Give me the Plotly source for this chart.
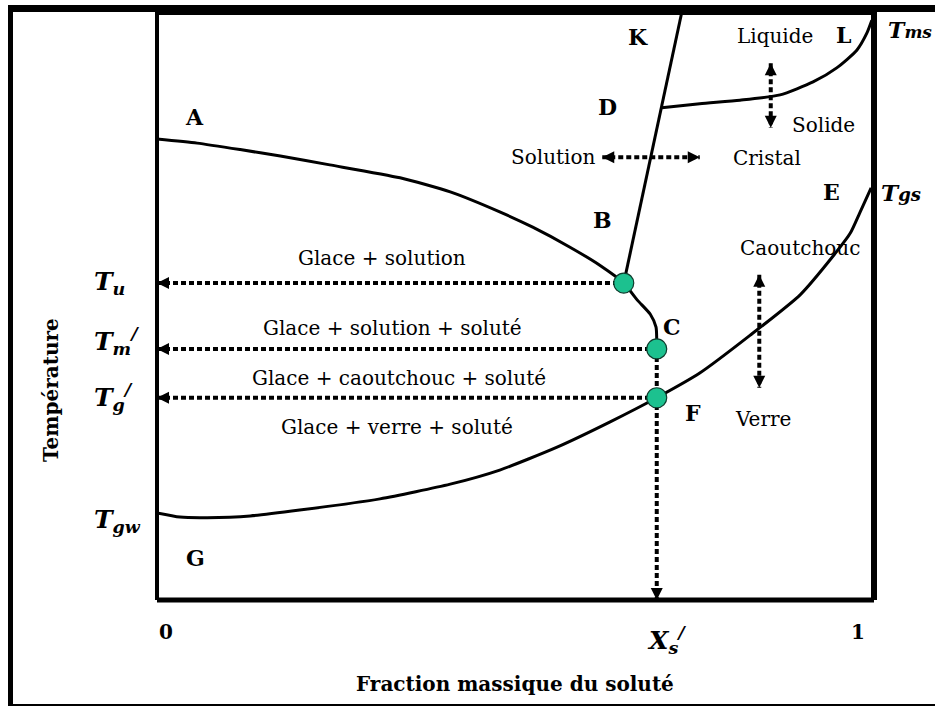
import plotly.graph_objects as go

# ---------------- data (x: solute mass fraction 0..1, y: temperature, arbitrary 0..100) -------------
liquidus_x = [0.000, 0.056, 0.116, 0.172, 0.241, 0.339, 0.409, 0.478, 0.524, 0.576, 0.618, 0.651, 0.670, 0.688, 0.696, 0.697, 0.697]
liquidus_y = [78.4, 77.7, 76.6, 75.5, 74.0, 71.8, 69.4, 66.0, 63.4, 60.0, 56.9, 53.9, 51.0, 48.6, 46.4, 44.2, 42.7]

glass_x = [0.000, 0.032, 0.070, 0.130, 0.199, 0.311, 0.409, 0.478, 0.558, 0.632, 0.697, 0.757, 0.827, 0.897, 0.943, 0.967, 0.980, 0.996]
glass_y = [14.8, 14.1, 14.0, 14.3, 15.3, 17.2, 19.7, 22.1, 26.0, 30.3, 34.4, 38.6, 45.0, 51.9, 58.5, 62.4, 65.8, 70.1]

melting_x = [0.704, 0.757, 0.813, 0.869, 0.915, 0.948, 0.976, 0.990, 0.997]
melting_y = [83.7, 84.4, 85.0, 85.9, 88.1, 90.5, 93.5, 96.4, 98.6]

solubility_x = [0.732, 0.651]
solubility_y = [100.0, 53.9]

point_names = ["B", "C", "F"]
point_x = [0.651, 0.697, 0.697]
point_y = [53.9, 42.7, 34.4]
Xs = 0.697

sol_cri_x = [0.621, 0.757]
sol_cri_y = 75.3
liq_sol_x = 0.856
liq_sol_y = [91.3, 80.3]
cao_ver_x = 0.840
cao_ver_y = [55.3, 36.1]

letter_text = ["A", "B", "C", "D", "E", "F", "G", "K", "L"]
letter_x = [0.052, 0.622, 0.718, 0.628, 0.941, 0.748, 0.054, 0.671, 0.957]
letter_y = [82.1, 64.6, 46.4, 83.8, 69.4, 31.8, 7.1, 95.8, 96.1]

region_text = ["Glace + solution", "Glace + solution + soluté", "Glace + caoutchouc + soluté",
               "Glace + verre + soluté", "Solution", "Cristal", "Liquide", "Solide", "Caoutchouc", "Verre"]
region_x = [0.314, 0.329, 0.3375, 0.335, 0.552, 0.851, 0.862, 0.929, 0.897, 0.845]
region_y = [58.2, 46.3, 37.8, 29.4, 75.3, 75.2, 95.9, 80.8, 59.9, 30.8]

x_title = "Fraction massique du soluté"
y_title = "Température"

SERIF = "DejaVu Serif"
BLACK = "black"
DOT = "5px,3px"

fig = go.Figure()

def curve(x, y, w=3):
    fig.add_trace(go.Scatter(x=x, y=y, mode="lines", line=dict(color=BLACK, width=w, shape="spline", smoothing=0.6),
                             hoverinfo="skip"))

def dotted(x, y):
    fig.add_trace(go.Scatter(x=x, y=y, mode="lines", line=dict(color=BLACK, width=4, dash=DOT), hoverinfo="skip"))

head_x, head_y, head_sym = [], [], []

def head(xt, yt, sym):
    head_x.append(xt)
    head_y.append(yt)
    head_sym.append(sym)

# main curves
curve(liquidus_x, liquidus_y)
curve(glass_x, glass_y)
curve(melting_x, melting_y)
fig.add_trace(go.Scatter(x=solubility_x, y=solubility_y, mode="lines", line=dict(color=BLACK, width=3), hoverinfo="skip"))

# dotted level lines to the temperature axis
for px_, py_ in zip(point_x, point_y):
    dotted([0, px_], [py_, py_])
    head(0, py_, "arrow-left")
# vertical dotted to X's
dotted([Xs, Xs], [point_y[1], 0])
head(Xs, 0, "arrow-down")

# double arrows
dotted(sol_cri_x, [sol_cri_y, sol_cri_y])
head(sol_cri_x[0], sol_cri_y, "arrow-left")
head(sol_cri_x[1], sol_cri_y, "arrow-right")
dotted([liq_sol_x, liq_sol_x], liq_sol_y)
head(liq_sol_x, liq_sol_y[0], "arrow-up")
head(liq_sol_x, liq_sol_y[1], "arrow-down")
dotted([cao_ver_x, cao_ver_x], cao_ver_y)
head(cao_ver_x, cao_ver_y[0], "arrow-up")
head(cao_ver_x, cao_ver_y[1], "arrow-down")

fig.add_trace(go.Scatter(x=head_x, y=head_y, mode="markers", hoverinfo="skip", cliponaxis=False,
                         marker=dict(symbol=head_sym, size=12, color=BLACK, line=dict(width=0))))

# key points
fig.add_trace(go.Scatter(x=point_x, y=point_y, mode="markers", text=point_names, hoverinfo="text",
                         marker=dict(size=20, color="#1cc18f", line=dict(color="#0d3b2c", width=1.2))))

# letters
for t, x, y in zip(letter_text, letter_x, letter_y):
    fig.add_annotation(x=x, y=y, xref="x", yref="y", text=t, showarrow=False, xanchor="center", yanchor="middle",
                       font=dict(family=SERIF, size=22, color=BLACK, weight="bold"))
# region labels
for t, x, y in zip(region_text, region_x, region_y):
    fig.add_annotation(x=x, y=y, xref="x", yref="y", text=t, showarrow=False, xanchor="center", yanchor="middle",
                       font=dict(family=SERIF, size=20, color=BLACK))

# ---- labels outside the plot area (paper coords; plot area = x 157..874 px, y 12..600 px) ----
def px_x(p):
    return (p - 157) / 717.0

def px_y(p):
    return (600 - p) / 588.0

tfont = dict(family=SERIF, size=25, color=BLACK, weight="bold", style="italic")
left_labels = [("T<sub>u</sub>", 283), ("T<sub>m</sub><sup>/</sup>", 341), ("T<sub>g</sub><sup>/</sup>", 397),
               ("T<sub>gw</sub>", 521)]
for t, yy in left_labels:
    fig.add_annotation(x=px_x(92), y=px_y(yy), xref="paper", yref="paper", text=t, showarrow=False,
                       xanchor="left", yanchor="middle", font=tfont)

fig.add_annotation(x=px_x(886), y=px_y(30), xref="paper", yref="paper", xanchor="left", yanchor="middle",
                   text="T<span style='font-size:17px'>ms</span>", showarrow=False,
                   font=dict(family=SERIF, size=22, color=BLACK, weight="bold", style="italic"))
fig.add_annotation(x=px_x(879), y=px_y(192), xref="paper", yref="paper", xanchor="left", yanchor="middle",
                   text="T<span style='font-size:18px'>gs</span>", showarrow=False,
                   font=dict(family=SERIF, size=23, color=BLACK, weight="bold", style="italic"))

# x tick labels
fig.add_annotation(x=px_x(166), y=px_y(632), xref="paper", yref="paper", text="0", showarrow=False,
                   xanchor="center", yanchor="middle", font=dict(family=SERIF, size=20, color=BLACK, weight="bold"))
fig.add_annotation(x=px_x(858), y=px_y(632), xref="paper", yref="paper", text="1", showarrow=False,
                   xanchor="center", yanchor="middle", font=dict(family=SERIF, size=20, color=BLACK, weight="bold"))
fig.add_annotation(x=px_x(645), y=px_y(640), xref="paper", yref="paper", xanchor="left", yanchor="middle",
                   text="X<sub>s</sub><sup>/</sup>", showarrow=False, font=tfont)

# axis titles
fig.add_annotation(x=px_x(515), y=px_y(684), xref="paper", yref="paper", text=x_title, showarrow=False,
                   xanchor="center", yanchor="middle", font=dict(family=SERIF, size=20, color=BLACK, weight="bold"))
fig.add_annotation(x=px_x(51), y=px_y(390), xref="paper", yref="paper", text=y_title, showarrow=False,
                   xanchor="center", yanchor="middle", textangle=-90,
                   font=dict(family=SERIF, size=20, color=BLACK, weight="bold"))

# ---- plot box and outer frame ----
shapes = [
    dict(type="line", xref="paper", yref="paper", x0=0, x1=0, y0=0, y1=1, line=dict(color=BLACK, width=4)),
    dict(type="line", xref="paper", yref="paper", x0=0, x1=1, y0=0, y1=0, line=dict(color=BLACK, width=5)),
    dict(type="line", xref="paper", yref="paper", x0=1, x1=1, y0=0, y1=1, line=dict(color=BLACK, width=6)),
    dict(type="line", xref="paper", yref="paper", x0=0, x1=1, y0=1, y1=1, line=dict(color=BLACK, width=6)),
    dict(type="line", xref="paper", yref="paper", x0=px_x(10.5), x1=px_x(10.5), y0=px_y(705), y1=px_y(5),
         line=dict(color=BLACK, width=5)),
    dict(type="line", xref="paper", yref="paper", x0=px_x(8), x1=px_x(935), y0=px_y(8.5), y1=px_y(8.5),
         line=dict(color=BLACK, width=7)),
    dict(type="line", xref="paper", yref="paper", x0=px_x(8), x1=px_x(935), y0=px_y(705), y1=px_y(705),
         line=dict(color=BLACK, width=2)),
]
for s in shapes:
    s["layer"] = "above"

fig.update_layout(
    width=935, height=706,
    margin=dict(l=157, r=61, t=12, b=106),
    paper_bgcolor="white", plot_bgcolor="white",
    showlegend=False,
    xaxis=dict(range=[0, 1], visible=False, fixedrange=True),
    yaxis=dict(range=[0, 100], visible=False, fixedrange=True),
    shapes=shapes,
)

fig.write_html("out.html", config={"displayModeBar": False},
               post_script="document.body.style.margin='0px';document.body.style.overflow='hidden';")
